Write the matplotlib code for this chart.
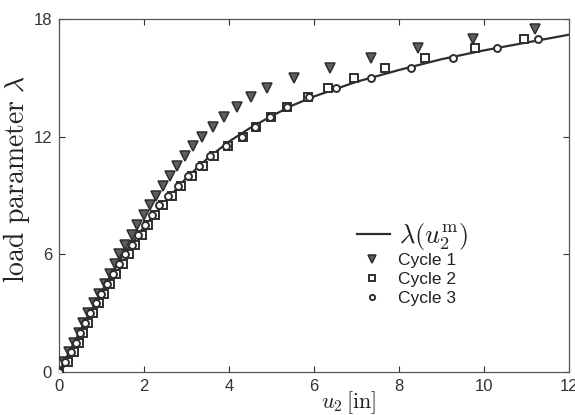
import matplotlib
matplotlib.use("Agg")
import matplotlib.pyplot as plt

plt.rcParams['mathtext.fontset'] = 'cm'
plt.rcParams['font.family'] = ['Liberation Sans', 'DejaVu Sans']

# fitted curve lambda(u2^m)
curve_u = [0, 0.5, 1.0, 1.5, 2.0, 2.5, 3.0, 3.5, 4.0, 4.5, 5.0, 5.5, 6.0, 7.0, 8.0, 9.0, 10.0, 11.0, 12.0]
curve_lam = [0, 2.1, 4.1, 5.95, 7.4, 8.7, 9.9, 10.9, 11.75, 12.45, 13.05, 13.6, 14.05, 14.8, 15.4, 15.95, 16.4, 16.8, 17.2]

# Cycle 1 (triangles)
c1_lam = [0, 0.5, 1.0, 1.5, 2.0, 2.5, 3.0, 3.5, 4.0, 4.5, 5.0, 5.5, 6.0, 6.5, 7.0, 7.5, 8.0, 8.5,
          9.0, 9.5, 10.0, 10.5, 11.0, 11.5, 12.0, 12.5, 13.0, 13.5, 14.0, 14.5, 15.0, 15.5, 16.0,
          16.5, 17.0, 17.5]
c1_u = [0, 0.12, 0.24, 0.35, 0.47, 0.57, 0.68, 0.82, 0.94, 1.08, 1.20, 1.31, 1.41, 1.56, 1.72, 1.84,
        1.99, 2.14, 2.28, 2.45, 2.61, 2.78, 2.96, 3.15, 3.36, 3.62, 3.88, 4.19, 4.52, 4.89, 5.53,
        6.38, 7.34, 8.45, 9.74, 11.2]

# Cycle 2 (squares)
c2_lam = [0, 0.5, 1.0, 1.5, 2.0, 2.5, 3.0, 3.5, 4.0, 4.5, 5.0, 5.5, 6.0, 6.5, 7.0, 7.5, 8.0, 8.5,
          9.0, 9.5, 10.0, 10.5, 11.0, 11.5, 12.0, 12.5, 13.0, 13.5, 14.0, 14.5, 15.0, 15.5, 16.0,
          16.5, 17.0]
c2_u = [0, 0.21, 0.35, 0.47, 0.56, 0.68, 0.80, 0.94, 1.06, 1.20, 1.34, 1.50, 1.64, 1.80, 1.95, 2.10,
        2.27, 2.45, 2.65, 2.88, 3.12, 3.38, 3.65, 3.97, 4.32, 4.63, 4.98, 5.36, 5.86, 6.33, 6.94,
        7.67, 8.61, 9.79, 10.94]

# Cycle 3 (circles)
c3_lam = [0, 0.5, 1.0, 1.5, 2.0, 2.5, 3.0, 3.5, 4.0, 4.5, 5.0, 5.5, 6.0, 6.5, 7.0, 7.5, 8.0, 8.5,
          9.0, 9.5, 10.0, 10.5, 11.0, 11.5, 12.0, 12.5, 13.0, 13.5, 14.0, 14.5, 15.0, 15.5, 16.0,
          16.5, 17.0]
c3_u = [0, 0.15, 0.28, 0.40, 0.50, 0.61, 0.73, 0.87, 0.99, 1.12, 1.26, 1.42, 1.56, 1.72, 1.87, 2.02,
        2.19, 2.36, 2.56, 2.79, 3.03, 3.29, 3.56, 3.92, 4.30, 4.62, 4.97, 5.36, 5.88, 6.52, 7.34,
        8.28, 9.27, 10.31, 11.27]

xticks = [0, 2, 4, 6, 8, 10, 12]
yticks = [0, 6, 12, 18]

fig = plt.figure(figsize=(5.75, 4.15), dpi=100)
ax = fig.add_axes([0.1026, 0.1036, 0.8870, 0.8506])

dark = '#2e2e2e'
ln, = ax.plot(curve_u, curve_lam, '-', color=dark, lw=1.6, zorder=2)
m1, = ax.plot(c1_u, c1_lam, 'v', ms=7.5, mfc='#5e5e5e', mec=dark, mew=1.1, ls='none', zorder=3)
m2, = ax.plot(c2_u, c2_lam, 's', ms=5.2, mfc='white', mec=dark, mew=1.4, ls='none', zorder=3)
m3, = ax.plot(c3_u, c3_lam, 'o', ms=5, mfc='white', mec=dark, mew=1.4, ls='none', zorder=3)

ax.set_xlim(0, 12)
ax.set_ylim(0, 18)
ax.set_xticks(xticks)
ax.set_yticks(yticks)
ax.tick_params(direction='in', top=True, right=True, length=4, width=0.8,
               labelsize=12, colors='#333333', pad=5)
for s in ax.spines.values():
    s.set_color('#555555')
    s.set_linewidth(0.9)

ax.set_xlabel(r'$u_2\,[\mathrm{in}]$', fontsize=16, color='#222222')
ax.xaxis.set_label_coords(0.568, -0.05)
ax.set_ylabel(r'$\mathrm{load\ parameter}\ \lambda$', fontsize=20, color='#222222')
ax.yaxis.set_label_coords(-0.053, 0.547)

leg1 = ax.legend([ln], [r'$\lambda(u_2^{\mathrm{m}})$'], loc='center left',
                 bbox_to_anchor=(0.584, 0.384), frameon=False, fontsize=19,
                 handlelength=1.25, handletextpad=0.33, borderpad=0, borderaxespad=0)
leg1.get_texts()[0].set_color('#222222')
ax.add_artist(leg1)

leg2 = ax.legend([m1, m2, m3], ['Cycle 1', 'Cycle 2', 'Cycle 3'], loc='upper left',
                 bbox_to_anchor=(0.584, 0.338), frameon=False, fontsize=12.5,
                 handlelength=1.73, handletextpad=0.63, labelspacing=0.22,
                 borderpad=0, borderaxespad=0, markerscale=0.75)
for t in leg2.get_texts():
    t.set_color('#222222')

fig.savefig('out.png', dpi=100, facecolor='white')
